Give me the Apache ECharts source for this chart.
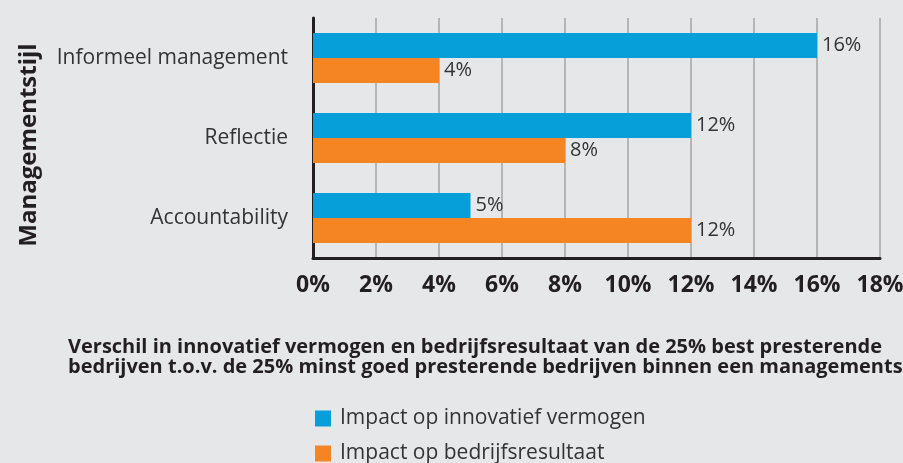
<!DOCTYPE html>
<html>
<head>
<meta charset="utf-8">
<script src="https://cdn.jsdelivr.net/npm/echarts@6/dist/echarts.min.js"></script>
<style>
  html, body { margin: 0; padding: 0; background: #e6e7e9; }
  #chart { width: 903px; height: 463px; }
</style>
</head>
<body>
<div id="chart"></div>
<script>
// data
const categories = ['Informeel management', 'Reflectie', 'Accountability'];
const innovatief = [16, 12, 5];
const bedrijfsresultaat = [4, 8, 12];
const seriesNames = ['Impact op innovatief vermogen', 'Impact op bedrijfsresultaat'];
const xTicks = [0, 2, 4, 6, 8, 10, 12, 14, 16, 18];

const FONT = '"Open Sans", "Noto Sans", sans-serif';
const DARK = '#231f20';

const chart = echarts.init(document.getElementById('chart'));

const barLabel = {
  show: true,
  position: 'right',
  distance: 5,
  formatter: '{c}%',
  fontFamily: FONT,
  fontSize: 20,
  color: '#333'
};

// één legenda per regel, onder elkaar
const legendItem = (name, top) => ({
  left: 315,
  top: top,
  padding: 0,
  itemWidth: 16,
  itemHeight: 16,
  icon: 'rect',
  data: [name],
  textStyle: { fontFamily: FONT, fontSize: 21, color: '#333', padding: [0, 0, 0, 4] }
});

chart.setOption({
  backgroundColor: '#e6e7e9',
  animation: false,
  title: {
    text: 'Verschil in innovatief vermogen en bedrijfsresultaat van de 25% best presterende\nbedrijven t.o.v. de 25% minst goed presterende bedrijven binnen een managementstijl',
    left: 68,
    top: 337,
    padding: 0,
    textStyle: {
      fontFamily: FONT,
      fontWeight: 'bold',
      fontSize: 20,
      lineHeight: 20,
      color: DARK
    }
  },
  legend: [legendItem(seriesNames[0], 408), legendItem(seriesNames[1], 443)],
  grid: { left: 313, right: 23, top: 18, bottom: 205, outerBoundsMode: 'none' },
  xAxis: {
    type: 'value',
    min: xTicks[0],
    max: xTicks[xTicks.length - 1],
    interval: 2,
    axisLine: { show: true, lineStyle: { color: DARK, width: 3 } },
    axisTick: { show: false },
    axisLabel: {
      formatter: '{value}%',
      margin: 16,
      fontFamily: FONT,
      fontWeight: 'bold',
      fontSize: 23,
      color: DARK
    },
    splitLine: { show: true, lineStyle: { color: '#b4b5b7', width: 2 } }
  },
  yAxis: {
    type: 'category',
    inverse: true,
    data: categories,
    name: 'Managementstijl',
    nameLocation: 'middle',
    nameRotate: 90,
    nameGap: 272,
    nameTextStyle: { fontFamily: FONT, fontWeight: 'bold', fontSize: 24, color: DARK, padding: [0, 14, 0, 0] },
    axisLine: { show: true, lineStyle: { color: DARK, width: 3 } },
    axisTick: { show: false },
    axisLabel: { margin: 25, fontFamily: FONT, fontSize: 21, color: '#333' }
  },
  series: [
    {
      name: seriesNames[0],
      type: 'bar',
      data: innovatief,
      barWidth: 25,
      barGap: '0%',
      itemStyle: { color: '#079fda' },
      label: barLabel
    },
    {
      name: seriesNames[1],
      type: 'bar',
      data: bedrijfsresultaat,
      barWidth: 25,
      barGap: '0%',
      itemStyle: { color: '#f58523' },
      label: barLabel
    }
  ]
});
</script>
</body>
</html>
